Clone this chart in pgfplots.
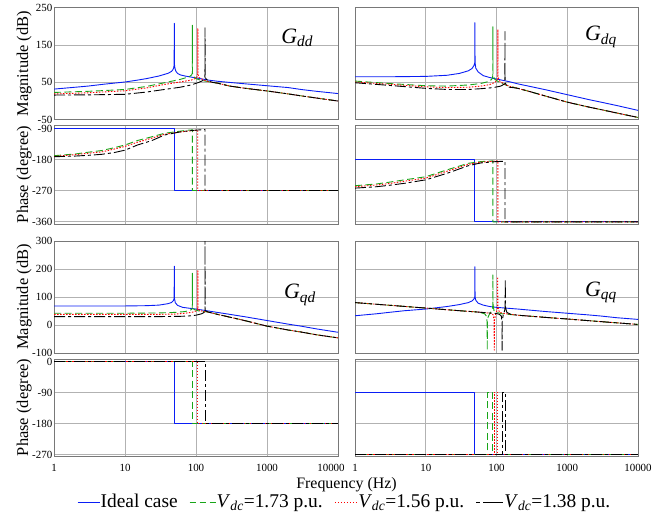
\documentclass[border=0pt]{standalone}
\usepackage{fontspec}
\setmainfont{Liberation Serif}
\usepackage{pgfplots}
\pgfplotsset{compat=1.18}

\definecolor{cBlue}{RGB}{10,30,245}
\definecolor{cGreen}{RGB}{25,165,25}
\definecolor{gridgray}{RGB}{178,178,178}
\definecolor{framegray}{RGB}{120,120,120}

% legend samples, built from coloured rules
\newcommand{\seg}[1]{\rule[0.25em]{#1}{0.9bp}}
\newcommand{\sampleBlue}{\textcolor{cBlue}{\seg{22bp}}}
\newcommand{\sampleGreen}{\textcolor{cGreen}{\seg{6bp}\hspace{4bp}\seg{6bp}\hspace{4bp}\seg{6bp}}}
\newcommand{\dotR}{\seg{1.5bp}\hspace{1.5bp}}
\newcommand{\sampleRed}{\textcolor{red}{\dotR\dotR\dotR\dotR\dotR\dotR\dotR\seg{1.5bp}}}
\newcommand{\sampleBlack}{\textcolor{black}{\seg{4bp}\hspace{3bp}\seg{20bp}}}

\tikzset{
  ideal/.style={draw=cBlue, color=cBlue, solid},
  vA/.style={draw=cGreen, color=cGreen, dash pattern=on 7bp off 3.5bp},
  vB/.style={draw=red, color=red, dash pattern=on 1.5bp off 1.5bp},
  vC/.style={draw=black, color=black, dash pattern=on 11bp off 3bp on 3bp off 3bp},
  glabel/.style={font=\fontsize{22}{24}\selectfont},
}

\pgfplotsset{
  every axis/.append style={
    scale only axis, xmode=log, xmin=1, xmax=10000,
    xtick={1,10,100,1000,10000},
    grid=major, major grid style={draw=gridgray, line width=0.6bp},
    axis line style={draw=framegray, line width=0.9bp},
    major tick length=0pt, minor tick length=0pt,
    tick label style={font=\fontsize{11}{12}\selectfont},
    yticklabel style={inner xsep=1.5bp},
    xticklabel style={inner ysep=0pt, yshift=-8bp},
    ylabel style={font=\fontsize{16.5}{18}\selectfont,
      at={(axis description cs:-0.0775,0.5)}, anchor=south, inner sep=0pt},
  },
  every axis plot/.append style={mark=none, line width=0.9bp, line join=round},
}

\begin{document}
\begin{tikzpicture}
\useasboundingbox (0,0) rectangle (671bp,-518bp);

% ---------------- G_dd magnitude ----------------
\begin{axis}[at={(54bp,-7.7bp)}, anchor=north west, width=284bp, height=112bp,
  xticklabels={},
  ymin=-50, ymax=250, ytick={-50,50,150,250}, yticklabels={-50,50,150,250},
  ylabel={Magnitude (dB)}]
\addplot[ideal] coordinates {(1,32) (2,37) (3,40) (5,45) (10,51) (15,56) (20,60) (30,67) (40,74) (45,79) (47,83) (48.5,89) (49.2,97) (49.5,208) (49.8,97) (50.5,88) (52,80) (55,74) (60,70) (70,67) (80,65) (100,62) (150,56) (200,53) (333,49) (500,46) (1000,41) (2000,36) (3000,31) (5000,26) (10000,20)};
\addplot[vA] coordinates {(1,23) (3,26) (5,28) (10,31) (20,39) (36,49) (60,58) (80,65) (87,70) (88.6,75) (88.9,203) (89.2,75) (92,66) (100,60) (120,55) (150,52) (200,48) (300,40) (500,34) (1000,27) (2000,19) (3000,14) (5000,8) (10000,0)};
\addplot[vB] coordinates {(1,19) (3,22) (10,27.5) (20,35) (36,44.5) (60,51) (85,56) (100,61) (104,66) (105.8,72) (106,195) (106.2,72) (110,63) (130,56) (150,52) (200,48) (300,40) (500,34) (1000,27) (2000,19) (3000,14) (5000,8) (10000,0)};
\addplot[vC] coordinates {(1,16) (3,16.5) (10,18) (20,24) (36,31) (60,37) (85,43) (110,50) (128,56) (133.6,64) (134,196) (134.4,64) (140,58) (150,54) (170,50) (200,48) (300,40) (500,34) (1000,27) (2000,19) (3000,14) (5000,8) (10000,0)};
\node[glabel] at (rel axis cs:0.856,0.73) {\textit{G}\textsubscript{\textit{dd}}};
\end{axis}

% ---------------- G_dd phase ----------------
\begin{axis}[at={(54bp,-125bp)}, anchor=north west, width=284bp, height=99bp,
  xticklabels={},
  ymin=-367, ymax=-80, ytick={-360,-270,-180,-90}, yticklabels={-360,-270,-180,-90},
  ylabel={Phase (degree)}]
\addplot[ideal] coordinates {(1,-90) (49.5,-90) (49.5,-270) (10000,-270)};
\addplot[vA] coordinates {(1,-169) (2,-164) (3,-159) (4.7,-154) (7,-146) (10,-138) (15,-125) (24,-114) (36,-104) (50,-100) (70,-96) (88.9,-94) (88.9,-270) (10000,-270)};
\addplot[vB] coordinates {(1,-171) (2,-166) (3,-162) (4.7,-158) (7,-150) (10,-142) (15,-130) (24,-118) (36,-107) (60,-100) (85,-97) (106,-95) (106,-270) (10000,-270)};
\addplot[vC] coordinates {(1,-172) (2,-170) (3,-168) (4.7,-165) (7,-160) (10,-153) (15,-138) (24,-125) (36,-109) (60,-100) (85,-96) (134,-93) (134,-270) (10000,-270)};
\end{axis}

% ---------------- G_dq magnitude ----------------
\begin{axis}[at={(355bp,-7.7bp)}, anchor=north west, width=283bp, height=112bp,
  xticklabels={},
  ymin=-50, ymax=250, ytick={-50,50,150,250}, yticklabels={}]
\addplot[ideal] coordinates {(1,65) (3,65) (10,66) (20,69) (30,74) (40,81) (45,87) (48,95) (49.2,102) (49.5,210) (49.8,102) (51,88) (55,78) (65,68) (80,63) (100,59) (150,52) (200,46) (300,39) (500,30) (1000,17) (2000,4) (3000,-3) (5000,-12) (10000,-25)};
\addplot[vA] coordinates {(1,53.5) (3,47) (10,41) (20,40) (40,43) (60,47) (80,53) (87,60) (88.6,68) (88.9,199) (89.2,68) (95,58) (110,50) (130,44) (150,40) (200,34) (300,25) (500,13) (1000,-3) (2000,-16) (3000,-23) (5000,-32) (10000,-44)};
\addplot[vB] coordinates {(1,51) (3,45) (10,38) (20,36) (40,37) (60,40) (80,44) (95,50) (103,58) (104.2,65) (104.5,192) (104.8,65) (110,54) (130,45) (150,40) (200,34) (300,25) (500,13) (1000,-3) (2000,-16) (3000,-23) (5000,-32) (10000,-44)};
\addplot[vC] coordinates {(1,49) (3,42) (10,34) (20,31) (40,31) (60,33) (90,36) (115,40) (128,45) (131.5,52) (131.8,186) (132.1,50) (140,40) (150,37) (170,36) (200,34) (300,25) (500,13) (1000,-3) (2000,-16) (3000,-23) (5000,-32) (10000,-44)};
\node[glabel] at (rel axis cs:0.869,0.74) {\textit{G}\textsubscript{\textit{dq}}};
\end{axis}

% ---------------- G_dq phase ----------------
\begin{axis}[at={(355bp,-125bp)}, anchor=north west, width=283bp, height=99bp,
  xticklabels={},
  ymin=-367, ymax=-80, ytick={-360,-270,-180,-90}, yticklabels={}]
\addplot[ideal] coordinates {(1,-180) (49.5,-180) (49.5,-360) (10000,-360)};
\addplot[vA] coordinates {(1,-256) (2,-251) (3,-246) (5,-239) (10,-230) (20,-210) (40,-191) (60,-186) (88.9,-184) (88.9,-361) (10000,-361)};
\addplot[vB] coordinates {(1,-259) (2,-254) (3,-250) (5,-243) (10,-234) (20,-214) (40,-194) (60,-188) (104.5,-184) (104.5,-361) (10000,-361)};
\addplot[vC] coordinates {(1,-263) (2,-259) (3,-255) (5,-249) (10,-239) (20,-220) (40,-198) (60,-190) (100,-186) (131.8,-185) (131.8,-361) (10000,-361)};
\end{axis}

% ---------------- G_qd magnitude ----------------
\begin{axis}[at={(54bp,-241bp)}, anchor=north west, width=284bp, height=112bp,
  xticklabels={},
  ymin=-100, ymax=300, ytick={-100,0,100,200,300}, yticklabels={-100,0,100,200,300},
  ylabel={Magnitude (dB)}]
\addplot[ideal] coordinates {(1,68) (10,68) (20,69) (30,71) (40,76) (45,80) (48,87) (49.2,95) (49.5,210) (49.8,95) (51,80) (55,70) (65,63) (80,60) (100,57) (150,50) (200,45) (300,38) (500,29) (1000,16) (2000,3) (3000,-4) (5000,-14) (10000,-26)};
\addplot[vA] coordinates {(1,42) (10,42) (30,43) (50,45) (70,48) (82,52) (87,56) (88.6,62) (88.9,185) (89.2,62) (95,55) (110,50) (130,48) (150,46) (200,38) (300,28) (500,15) (1000,-4) (2000,-18) (3000,-25) (5000,-35) (10000,-46)};
\addplot[vB] coordinates {(1,38) (10,38) (30,38) (50,39) (70,42) (90,46) (100,50) (105,56) (105.8,62) (106,194) (106.2,62) (112,52) (130,48) (150,46) (200,38) (300,28) (500,15) (1000,-4) (2000,-18) (3000,-25) (5000,-35) (10000,-46)};
\addplot[vC] coordinates {(1,30) (10,30) (30,30) (60,31) (77,32) (100,35) (120,40) (130,45) (133.8,52) (134,320) (134.2,52) (140,49) (150,46) (200,38) (300,28) (500,15) (1000,-4) (2000,-18) (3000,-25) (5000,-35) (10000,-46)};
\node[glabel] at (rel axis cs:0.866,0.518) {\textit{G}\textsubscript{\textit{qd}}};
\end{axis}

% ---------------- G_qd phase ----------------
\begin{axis}[at={(54bp,-359bp)}, anchor=north west, width=284bp, height=97bp,
  ymin=-274, ymax=7, ytick={-270,-180,-90,0}, yticklabels={-270,-180,-90,0},
  xticklabels={1,10,100,1000,{\hspace*{-14bp}10000}},
  ylabel={Phase (degree)}]
\addplot[ideal] coordinates {(1,0) (49.5,0) (49.5,-180) (10000,-180)};
\addplot[vA] coordinates {(1,0) (88.9,0) (88.9,-180) (10000,-180)};
\addplot[vB] coordinates {(1,0) (106,0) (106,-180) (10000,-180)};
\addplot[vC] coordinates {(1,0) (134,0) (134,-180) (10000,-180)};
\end{axis}

% ---------------- G_qq magnitude ----------------
\begin{axis}[at={(355bp,-241bp)}, anchor=north west, width=283bp, height=112bp,
  xticklabels={},
  ymin=-100, ymax=300, ytick={-100,0,100,200,300}, yticklabels={}]
\addplot[ideal] coordinates {(1,33) (2,40) (3,45) (5,51) (10,57) (20,66) (30,73) (40,80) (45,86) (48,93) (49.2,100) (49.5,208) (49.8,100) (51,88) (55,78) (65,71) (80,66) (100,63) (200,57) (300,53) (500,48) (1000,42) (2000,36) (3000,32) (5000,26) (10000,20)};
\addplot[vA] coordinates {(1,80) (10,60.5) (30,51) (50,47) (60,44) (68,40) (72,32) (73.7,10) (74,-90) (74.3,10) (76,28) (80,40) (85,50) (88,60) (88.7,75) (89,179) (89.3,75) (92,52) (100,45) (120,40) (200,35) (500,27) (1000,21.5) (3000,12) (10000,2)};
\addplot[vB] coordinates {(1,80) (10,60.5) (30,51) (50,47) (70,44) (85,41) (90,36) (92.5,15) (93,-90) (93.5,15) (97,38) (101,50) (103.5,65) (104,172) (104.5,65) (110,45) (130,41) (200,35) (500,27) (1000,21.5) (3000,12) (10000,2)};
\addplot[vC] coordinates {(1,80) (10,60.5) (30,51) (50,47) (70,44) (100,41) (110,38) (117,32) (119.5,15) (120,-90) (120.5,15) (125,38) (130,50) (132.5,65) (133,163) (133.5,65) (140,45) (160,38) (200,35) (500,27) (1000,21.5) (3000,12) (10000,2)};
\node[glabel] at (rel axis cs:0.869,0.545) {\textit{G}\textsubscript{\textit{qq}}};
\end{axis}

% ---------------- G_qq phase (carries the legend) ----------------
\begin{axis}[at={(355bp,-359bp)}, anchor=north west, width=283bp, height=97bp,
  ymin=-274, ymax=7, ytick={-270,-180,-90,0}, yticklabels={},
  xticklabels={1,10,100,1000,10000},
  legend image code/.code={},
  legend columns=-1,
  legend style={at={(axis description cs:-0.039,-0.47)}, anchor=center,
    draw=none, fill=none, inner sep=0pt,
    font=\fontsize{19.5}{21}\selectfont,
    nodes={inner sep=0.5bp},
    /tikz/every even column/.append style={column sep=11bp}}]
\addplot[ideal] coordinates {(1,-90) (49.5,-90) (49.5,-270) (10000,-270)};
\addlegendentry{\sampleBlue\hspace{1bp}Ideal case}
\addplot[vA] coordinates {(1,-270) (74,-270) (74,-90) (89,-90) (89,-270) (10000,-270)};
\addlegendentry{\sampleGreen\hspace{1bp}\textit{V}\textsubscript{\textit{dc}}=1.73 p.u.}
\addplot[vB] coordinates {(1,-270) (93,-270) (93,-90) (104,-90) (104,-270) (10000,-270)};
\addlegendentry{\sampleRed\hspace{1bp}\textit{V}\textsubscript{\textit{dc}}=1.56 p.u.}
\addplot[vC] coordinates {(1,-270) (120,-270) (120,-90) (133,-90) (133,-270) (10000,-270)};
\addlegendentry{\sampleBlack\hspace{1bp}\textit{V}\textsubscript{\textit{dc}}=1.38 p.u.}
\end{axis}

\node[font=\fontsize{16}{18}\selectfont] at (346.5bp,-485bp) {Frequency (Hz)};
\end{tikzpicture}
\end{document}
